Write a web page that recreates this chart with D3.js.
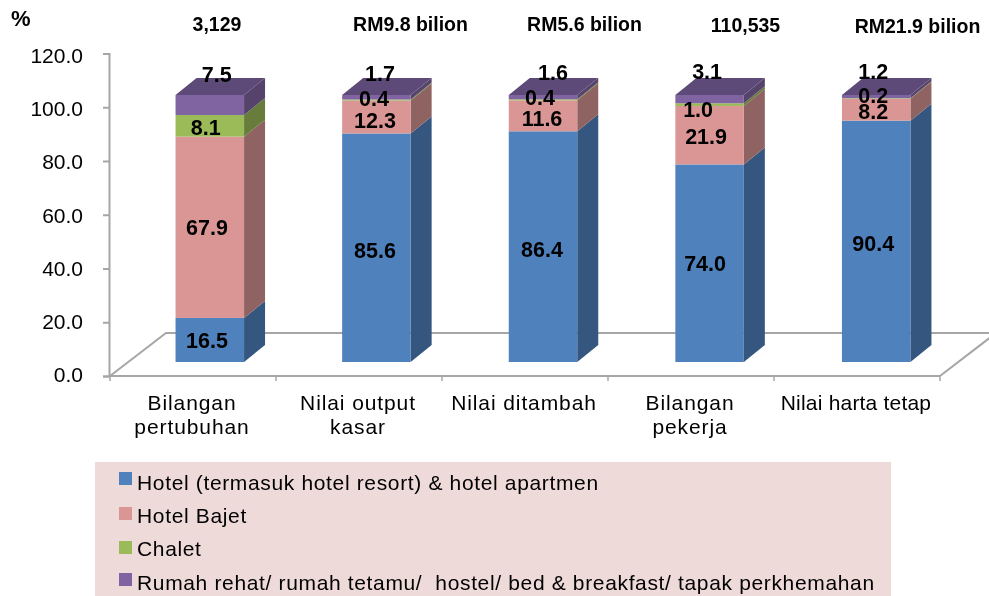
<!DOCTYPE html>
<html><head><meta charset="utf-8">
<script src="https://cdn.jsdelivr.net/npm/d3@7"></script>
<style>html,body{margin:0;padding:0;background:#fff}svg{display:block;filter:blur(0.35px)}text{font-family:"Liberation Sans",Arial,sans-serif;fill:#000}</style>
</head><body><svg id="c" width="989" height="596"></svg>
<script>
const categories = [["Bilangan","pertubuhan"],["Nilai output","kasar"],["Nilai ditambah"],["Bilangan","pekerja"],["Nilai harta tetap"]];
const totals = ["3,129","RM9.8 bilion","RM5.6 bilion","110,535","RM21.9 bilion"];
const seriesNames = ["Hotel (termasuk hotel resort) & hotel apartmen","Hotel Bajet","Chalet","Rumah rehat/ rumah tetamu/  hostel/ bed & breakfast/ tapak perkhemahan"];
const hotel = [16.5,85.6,86.4,74.0,90.4];
const bajet = [67.9,12.3,11.6,21.9,8.2];
const chalet = [8.1,0.4,0.4,1.0,0.2];
const rumah = [7.5,1.7,1.6,3.1,1.2];
const yTicks = [0,20,40,60,80,100,120];
const seriesValues = [hotel,bajet,chalet,rumah];
const frontColors = ["#4F81BD","#DA9694","#9BBB59","#8064A2"];
const sideColors = ["#34567F","#8F6362","#687D3C","#55436C"];
const topColor = "#5E4A78";
const labelNudgeX = [[-2.75,-1.35,-1,-4.5,-3],[-2.75,-1.35,-1,-3.5,-3],[-4,-2.35,-3,-11.5,-3],[7,3.65,10,-2.5,-3]];
const labelNudgeY = [[0,2.5,2.5,0,1.5],[0,3.5,2,1,2],[1.5,-2,-3,4.5,-3],[-31,-24,-25,-28,-25]];

const svg = d3.select("#c");
const keys = seriesValues.map((_,i)=>i);
const rows = categories.map((_,c)=>Object.fromEntries(keys.map(k=>[k,seriesValues[k][c]])));
const stacked = d3.stack().keys(keys)(rows);

const yAxisScale = d3.scaleLinear().domain([0,120]).range([376,53.5]);
const yLabel = d3.scaleLinear().domain([0,120]).range([374,55]);
const yBar = d3.scaleLinear().domain([0,100]).range([362,95]);
const xBand = d3.scaleBand().domain(d3.range(categories.length)).range([110,940]);
const barBand = d3.scaleBand().domain(d3.range(categories.length)).range([110,943]);
const barW = 68.5, barShift = 16.5, dX = 21, dY = -17;
const barX = i => barBand(i) + (barBand.step()-barW)/2 + barShift;
const grey = "#A6A6A6";

// floor
const fl = [[110,376],[166,333],[996,333],[940,376]];
svg.append("path").attr("d",d3.line()(fl)).attr("fill","none").attr("stroke",grey).attr("stroke-width",2);

// y axis
const yG = svg.append("g").attr("transform","translate(109,0)")
  .call(d3.axisLeft(yAxisScale).tickValues(yTicks).tickFormat(d3.format(".1f")).tickSize(6).tickPadding(20));
yG.select(".domain").attr("stroke",grey).attr("stroke-width",2);
yG.selectAll(".tick line").attr("stroke",grey).attr("stroke-width",2);
yG.selectAll("text").attr("font-size",21).attr("fill","#000").attr("font-family","Liberation Sans")
  .attr("dy","0.36em").attr("y",d=>yLabel(d)-yAxisScale(d));

// x axis
const xEdges = d3.range(categories.length+1).map(i=>110+i*xBand.step());
const xG = svg.append("g");
xG.append("line").attr("x1",110).attr("x2",940).attr("y1",376).attr("y2",376).attr("stroke",grey).attr("stroke-width",2);
xG.selectAll(".xt").data(xEdges).join("line").attr("x1",d=>d).attr("x2",d=>d).attr("y1",376).attr("y2",381).attr("stroke",grey).attr("stroke-width",1.5);

// bars
stacked.forEach((s,k)=>{
  const g = svg.append("g");
  s.forEach((d,i)=>{
    const x = barX(i), y0 = yBar(d[0]), y1 = yBar(d[1]);
    g.append("path").attr("d",d3.line()([[x+barW,y0],[x+barW+dX,y0+dY],[x+barW+dX,y1+dY],[x+barW,y1]])).attr("fill",sideColors[k]);
    g.append("rect").attr("x",x).attr("y",y1).attr("width",barW).attr("height",y0-y1).attr("fill",frontColors[k]);
    if(k===stacked.length-1){
      g.append("path").attr("d",d3.line()([[x,y1],[x+dX,y1+dY],[x+barW+dX,y1+dY],[x+barW,y1]])).attr("fill",topColor);
    }
  });
});

// value labels
stacked.forEach((s,k)=>{
  svg.append("g").selectAll("text").data(s).join("text")
    .attr("x",(d,i)=>barX(i)+barW/2+labelNudgeX[k][i])
    .attr("y",(d,i)=>(yBar(d[0])+yBar(d[1]))/2+labelNudgeY[k][i])
    .attr("dy","0.36em").attr("text-anchor","middle").attr("font-weight","bold").attr("font-size",21.5)
    .text((d,i)=>d3.format(".1f")(seriesValues[k][i]));
});

// totals
const totalX = [217,410.5,584.5,745.5,917.5], totalY = [31,31,31,32,33];
svg.append("g").selectAll("text").data(totals).join("text")
  .attr("x",(d,i)=>totalX[i]).attr("y",(d,i)=>totalY[i]).attr("text-anchor","middle")
  .attr("font-weight","bold").attr("font-size",19.5).text(d=>d);
svg.append("text").attr("x",11).attr("y",25.5).attr("font-weight","bold").attr("font-size",22).text("%");

// category labels
const catSpacing = [0.9,0.9,0.9,0.9,0.2];
const catG = svg.append("g").selectAll("text").data(categories).join("text")
  .attr("text-anchor","middle").attr("font-size",21).attr("letter-spacing",(d,i)=>catSpacing[i]);
catG.each(function(d,i){
  d3.select(this).selectAll("tspan").data(d).join("tspan")
    .attr("x",xBand(i)+xBand.step()/2-1).attr("y",(_,j)=>410+j*23.5).text(t=>t);
});

// legend
svg.append("rect").attr("x",95).attr("y",462).attr("width",796).attr("height",134).attr("fill","#EFDADA");
const legY = [490,523,556,590], swY = [472,507,541,573];
const leg = svg.append("g").selectAll("g").data(seriesNames).join("g");
leg.append("rect").attr("x",119).attr("y",(d,i)=>swY[i]).attr("width",13).attr("height",13).attr("fill",(d,i)=>frontColors[i]);
leg.append("text").attr("x",137).attr("y",(d,i)=>legY[i]).attr("font-size",21).attr("letter-spacing",0.65).style("white-space","pre").text(d=>d);
</script></body></html>
